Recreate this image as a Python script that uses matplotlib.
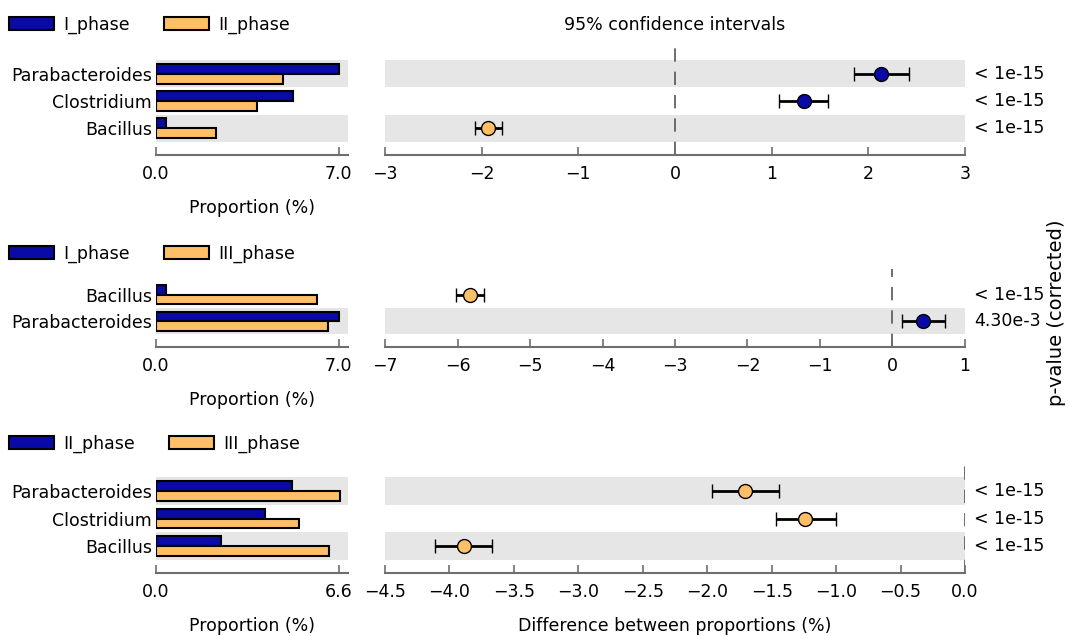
import numpy as np
import matplotlib
matplotlib.use("Agg")
import matplotlib.pyplot as plt
from matplotlib.patches import Patch
from matplotlib.transforms import blended_transform_factory

plt.rcParams['font.family'] = ['DejaVu Sans']
plt.rcParams['font.size'] = 12.5

# I_phase vs II_phase
taxa_1 = ['Parabacteroides', 'Clostridium', 'Bacillus']
groups_1 = ['I_phase', 'II_phase']
prop_1a = [7.0, 5.23, 0.38]
prop_1b = [4.85, 3.85, 2.30]
diff_1 = [2.13, 1.33, -1.93]
ci_lo_1 = [1.85, 1.08, -2.07]
ci_hi_1 = [2.42, 1.58, -1.79]
pvals_1 = ['< 1e-15', '< 1e-15', '< 1e-15']

# I_phase vs III_phase
taxa_2 = ['Bacillus', 'Parabacteroides']
groups_2 = ['I_phase', 'III_phase']
prop_2a = [0.38, 7.0]
prop_2b = [6.18, 6.57]
diff_2 = [-5.83, 0.42]
ci_lo_2 = [-6.02, 0.13]
ci_hi_2 = [-5.63, 0.73]
pvals_2 = ['< 1e-15', '4.30e-3']

# II_phase vs III_phase
taxa_3 = ['Parabacteroides', 'Clostridium', 'Bacillus']
groups_3 = ['II_phase', 'III_phase']
prop_3a = [4.92, 3.92, 2.35]
prop_3b = [6.63, 5.16, 6.25]
diff_3 = [-1.71, -1.24, -3.89]
ci_lo_3 = [-1.96, -1.47, -4.11]
ci_hi_3 = [-1.44, -1.00, -3.67]
pvals_3 = ['< 1e-15', '< 1e-15', '< 1e-15']

BLUE = '#0a0aa6'
ORANGE = '#ffbf66'
BAND = '#e6e6e6'
SPINE = '#6e6e6e'

W, H = 1068, 636


def fy(px):
    return 1 - px / H


def fx(px):
    return px / W


def style_axis(ax):
    for s in ['top', 'left', 'right']:
        ax.spines[s].set_visible(False)
    ax.spines['bottom'].set_color(SPINE)
    ax.spines['bottom'].set_linewidth(1.5)
    ax.tick_params(axis='x', direction='in', length=6, width=1.2, color=SPINE, pad=7)
    ax.tick_params(axis='y', length=0)


def draw_panel(top_px, bot_px, taxa, groups, pa, pb, diff, lo, hi, pvals,
               bar_max, bar_ticks, ci_lim, ci_ticks, ci_fmt, legend_px):
    n = len(taxa)
    y = np.arange(n)[::-1]
    ylim = (-0.98, n - 1 + 0.98)
    b = fy(bot_px)
    h = fy(top_px) - b

    # proportions
    ax = fig.add_axes([fx(156), b, fx(348) - fx(156), h])
    for i in range(n):
        if y[i] % 2 == 0:
            ax.axhspan(y[i] - 0.5, y[i] + 0.5, color=BAND, lw=0, zorder=0)
    bh = 0.36
    ax.barh(y + bh / 2, pa, height=bh, color=BLUE, edgecolor='black', lw=1.5, zorder=2)
    ax.barh(y - bh / 2, pb, height=bh, color=ORANGE, edgecolor='black', lw=1.5, zorder=2)
    ax.set_xlim(0, bar_max)
    ax.set_ylim(*ylim)
    ax.set_xticks(bar_ticks)
    ax.set_xticklabels(['%.1f' % t for t in bar_ticks])
    ax.set_yticks(y)
    ax.set_yticklabels(taxa)
    ax.tick_params(axis='y', pad=3)
    ax.set_xlabel('Proportion (%)', labelpad=12)
    style_axis(ax)

    handles = [Patch(facecolor=BLUE, edgecolor='black', lw=1.5, label=groups[0]),
               Patch(facecolor=ORANGE, edgecolor='black', lw=1.5, label=groups[1])]
    fig.legend(handles=handles, loc='center left', bbox_to_anchor=(fx(2), fy(legend_px)),
               ncol=2, frameon=False, handlelength=2.6, handleheight=0.8,
               handletextpad=0.5, columnspacing=2.0, borderaxespad=0)

    # differences with confidence intervals
    ax2 = fig.add_axes([fx(385), b, fx(965) - fx(385), h])
    for i in range(n):
        if y[i] % 2 == 0:
            ax2.axhspan(y[i] - 0.5, y[i] + 0.5, color=BAND, lw=0, zorder=0)
    ax2.axvline(0, color='#555555', lw=1.2, ls=(0, (8, 6)), zorder=1)
    for i in range(n):
        c = BLUE if diff[i] > 0 else ORANGE
        ax2.errorbar(diff[i], y[i], xerr=[[diff[i] - lo[i]], [hi[i] - diff[i]]],
                     fmt='o', color='black', ecolor='black', elinewidth=2, capsize=5,
                     capthick=1.5, markersize=10, markerfacecolor=c,
                     markeredgecolor='black', markeredgewidth=1, zorder=3)
    ax2.set_xlim(*ci_lim)
    ax2.set_ylim(*ylim)
    ax2.set_xticks(ci_ticks)
    ax2.set_xticklabels([ci_fmt(t).replace('-', '\u2212') for t in ci_ticks])
    ax2.set_yticks([])
    style_axis(ax2)

    tr = blended_transform_factory(ax2.transAxes, ax2.transData)
    for i in range(n):
        ax2.text(1.016, y[i], pvals[i], transform=tr, va='center', ha='left')
    return ax, ax2


fig = plt.figure(figsize=(W / 100, H / 100), dpi=100)

draw_panel(47, 155, taxa_1, groups_1, prop_1a, prop_1b, diff_1, ci_lo_1, ci_hi_1, pvals_1,
           7.35, [0.0, 7.0], (-3, 3), np.arange(-3, 4), lambda t: '%d' % t, 25)
draw_panel(269, 347, taxa_2, groups_2, prop_2a, prop_2b, diff_2, ci_lo_2, ci_hi_2, pvals_2,
           7.35, [0.0, 7.0], (-7, 1), np.arange(-7, 2), lambda t: '%d' % t, 254)
ax_b3, ax_c3 = draw_panel(464, 573, taxa_3, groups_3, prop_3a, prop_3b, diff_3, ci_lo_3,
                          ci_hi_3, pvals_3, 6.93, [0.0, 6.6], (-4.5, 0),
                          np.arange(-4.5, 0.01, 0.5), lambda t: '%.1f' % t, 444)
ax_c3.set_xlabel('Difference between proportions (%)', labelpad=12)

fig.text(fx(675), fy(25), '95% confidence intervals', ha='center', va='center')
fig.text(fx(1066), fy(313), 'p-value (corrected)', rotation=90, ha='right', va='center',
         fontsize=14)

fig.savefig('out.png', dpi=100)
